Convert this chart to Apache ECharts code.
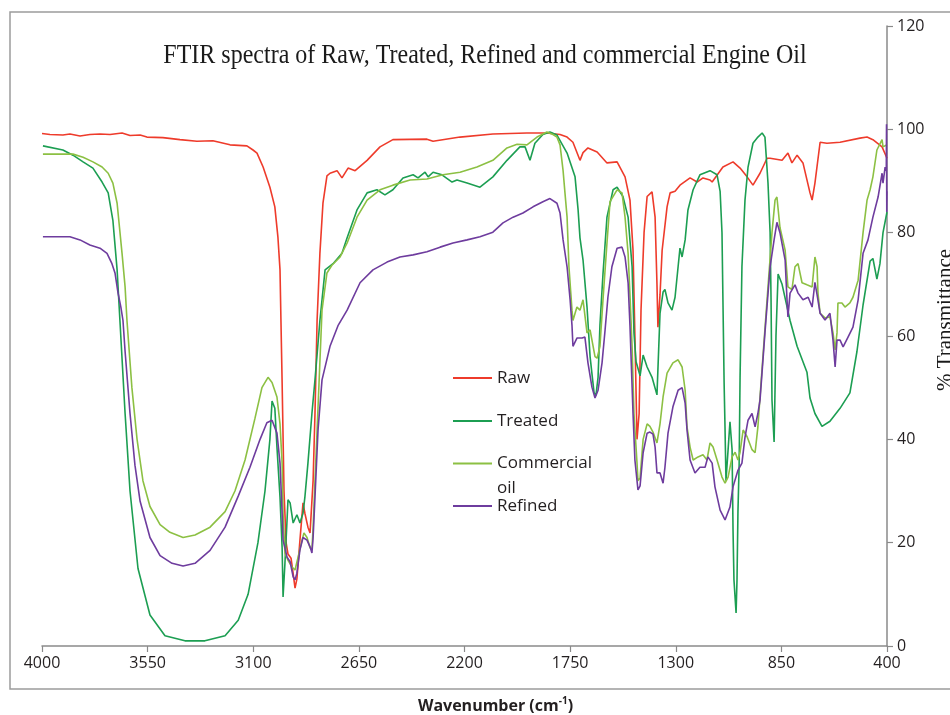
<!DOCTYPE html>
<html>
<head>
<meta charset="utf-8">
<title>FTIR spectra</title>
<script src="https://cdn.jsdelivr.net/npm/echarts@6/dist/echarts.min.js"></script>
<style>
  html, body { margin: 0; padding: 0; background: #ffffff; }
  #chart { width: 950px; height: 715px; }
</style>
</head>
<body>
<div id="chart"></div>
<script>
// Axis ticks
const wavenumberTicks = [400, 850, 1300, 1750, 2200, 2650, 3100, 3550, 4000];
const transmittanceRange = [0, 120];
const transmittanceStep = 20;

const chartTitle = 'FTIR spectra of Raw, Treated, Refined and commercial Engine Oil';
const seriesNames = ['Raw', 'Treated', 'Commercial oil', 'Refined'];

// Spectra: [wavenumber (cm-1), % transmittance]
const rawOil = [
  [4000,99.2],[3996,99.1],[3966,99.0],[3911,98.9],[3881,99.1],[3838,98.7],[3796,99.0],[3753,99.1],
  [3710,99.0],[3659,99.3],[3625,98.8],[3582,98.9],[3553,98.5],[3485,98.4],[3412,98.0],[3340,97.7],
  [3272,97.8],[3199,97.0],[3127,96.8],[3101,96.0],[3084,95.4],[3058,92.7],[3029,88.8],[3008,85.0],
  [2995,79.2],[2986,72.8],[2982,63.0],[2977,51.0],[2969,30.0],[2960,20.0],[2952,17.8],[2939,17.0],
  [2930,14.0],[2922,11.2],[2914,13.0],[2901,20.5],[2888,27.7],[2880,25.7],[2867,23.0],[2858,21.9],
  [2845,32.0],[2837,45.0],[2828,63.0],[2816,76.0],[2803,85.7],[2786,91.0],[2773,91.5],[2743,92.0],
  [2722,90.6],[2696,92.5],[2666,92.0],[2615,94.0],[2560,96.6],[2505,98.0],[2360,98.1],[2334,97.7],
  [2219,98.5],[2079,99.1],[1934,99.3],[1849,99.3],[1793,99.0],[1763,98.5],[1738,97.5],[1708,94.0],
  [1695,95.5],[1674,96.4],[1635,95.6],[1593,93.5],[1550,93.7],[1516,90.8],[1495,86.3],[1482,76.6],
  [1474,60.0],[1465,40.0],[1456,45.0],[1448,65.0],[1435,80.0],[1422,87.0],[1401,87.9],[1388,83.0],
  [1380,70.0],[1376,61.7],[1367,68.0],[1358,76.6],[1337,85.0],[1324,87.7],[1303,88.0],[1282,89.2],
  [1239,90.6],[1209,89.8],[1184,90.6],[1154,90.2],[1145,89.8],[1099,92.7],[1056,93.7],[1026,92.5],
  [996,90.8],[971,89.2],[941,91.5],[911,94.4],[898,94.4],[847,94.0],[822,95.4],[805,93.5],
  [783,95.0],[758,93.5],[728,87.7],[719,86.3],[707,89.6],[685,97.5],[656,97.3],[600,97.5],
  [515,98.3],[485,98.5],[460,98.0],[421,96.6],[400,94.4]
];

const treatedOil = [
  [3996,96.8],[3911,96.0],[3868,95.0],[3825,93.7],[3783,92.5],[3744,89.8],[3718,87.7],[3698,82.4],
  [3680,72.8],[3668,63.0],[3646,45.0],[3625,30.0],[3591,15.0],[3540,6.0],[3476,2.0],[3391,1.0],
  [3306,1.0],[3220,2.0],[3164,5.0],[3122,10.0],[3080,20.0],[3050,30.0],[3029,40.0],[3020,47.4],
  [3008,46.0],[2999,38.5],[2986,28.8],[2977,19.0],[2973,9.5],[2965,16.0],[2956,24.4],[2952,28.3],
  [2943,27.7],[2930,23.8],[2914,25.4],[2901,23.8],[2888,25.7],[2880,28.8],[2867,35.4],[2850,45.0],
  [2837,51.5],[2816,63.0],[2794,72.8],[2760,74.0],[2722,76.0],[2700,79.0],[2658,84.4],[2615,87.7],
  [2573,88.3],[2539,87.3],[2505,88.3],[2462,90.6],[2419,91.2],[2398,90.6],[2368,91.7],[2355,90.8],
  [2334,91.7],[2296,91.2],[2253,89.8],[2232,90.2],[2189,89.6],[2134,88.8],[2079,90.8],[2019,94.0],
  [1964,96.6],[1942,96.6],[1921,94.0],[1900,97.3],[1866,99.0],[1836,99.5],[1806,98.9],[1763,95.4],
  [1729,90.8],[1716,84.4],[1708,79.0],[1695,74.7],[1678,65.6],[1665,56.0],[1648,49.0],[1640,48.5],
  [1631,52.0],[1623,62.0],[1610,72.0],[1593,83.0],[1567,88.3],[1550,88.8],[1525,87.0],[1503,83.0],
  [1486,73.4],[1478,60.6],[1469,55.0],[1452,52.3],[1439,56.3],[1422,54.0],[1401,52.0],[1380,48.6],
  [1367,64.4],[1354,68.5],[1346,69.0],[1333,66.4],[1316,65.0],[1303,67.5],[1290,73.4],[1282,77.0],
  [1273,75.3],[1260,78.6],[1248,84.4],[1226,88.3],[1197,91.2],[1154,92.0],[1124,91.2],[1111,88.0],
  [1103,80.0],[1099,67.0],[1094,51.0],[1090,42.0],[1086,32.0],[1077,38.0],[1069,43.4],[1060,38.0],
  [1056,22.5],[1052,12.8],[1043,6.4],[1039,12.8],[1035,26.0],[1030,35.0],[1026,52.0],[1018,73.4],
  [1005,86.3],[992,92.7],[971,97.3],[950,98.5],[932,99.3],[920,98.5],[907,89.6],[898,80.0],
  [894,67.0],[890,47.6],[881,39.5],[873,60.0],[864,72.0],[847,70.0],[813,63.0],[783,58.0],
  [741,53.0],[728,48.0],[707,45.0],[677,42.5],[643,43.5],[600,46.0],[558,49.0],[528,57.0],
  [502,66.0],[472,74.5],[460,75.0],[443,71.0],[430,74.0],[417,80.0],[400,84.0]
];

const commercialOil = [
  [3996,95.2],[3868,95.2],[3825,94.6],[3783,93.7],[3744,92.7],[3718,91.5],[3698,89.6],[3680,85.7],
  [3659,76.0],[3646,69.5],[3638,63.0],[3617,50.0],[3595,40.0],[3570,32.0],[3540,27.0],[3497,23.5],
  [3455,22.0],[3399,21.0],[3348,21.5],[3284,23.0],[3220,26.0],[3178,30.0],[3135,36.0],[3093,44.0],
  [3063,50.0],[3037,52.0],[3020,51.0],[2999,48.2],[2986,43.0],[2977,35.4],[2973,25.7],[2965,18.0],
  [2952,16.6],[2935,15.3],[2922,14.7],[2909,17.2],[2892,20.5],[2884,21.9],[2871,21.0],[2858,19.0],
  [2850,18.6],[2845,23.0],[2837,32.0],[2828,41.8],[2816,55.0],[2807,65.0],[2786,72.2],[2765,73.7],
  [2730,75.3],[2700,78.0],[2658,83.0],[2615,86.3],[2560,88.3],[2505,89.2],[2432,90.2],[2360,90.4],
  [2292,91.2],[2219,91.7],[2147,92.7],[2079,94.0],[2019,96.4],[1976,97.1],[1934,97.0],[1891,98.5],
  [1849,99.5],[1823,99.0],[1806,98.5],[1793,97.0],[1780,92.0],[1772,87.7],[1763,83.0],[1755,73.4],
  [1742,65.0],[1738,63.0],[1721,65.6],[1708,65.0],[1695,67.0],[1678,60.6],[1665,61.2],[1644,56.0],
  [1635,55.7],[1623,58.0],[1610,67.0],[1593,78.0],[1580,86.0],[1550,88.3],[1529,87.7],[1516,83.0],
  [1503,76.0],[1495,68.0],[1486,58.0],[1478,45.0],[1465,35.4],[1461,32.0],[1452,32.5],[1439,40.0],
  [1422,43.0],[1410,42.5],[1397,41.4],[1380,39.3],[1367,43.0],[1354,48.2],[1337,52.8],[1312,54.8],
  [1290,55.4],[1273,54.0],[1260,49.5],[1252,42.4],[1239,38.5],[1226,36.0],[1205,36.6],[1184,37.0],
  [1167,36.0],[1154,39.3],[1141,38.5],[1124,36.0],[1103,32.7],[1090,31.5],[1077,32.7],[1060,36.6],
  [1047,37.5],[1035,36.0],[1026,37.5],[1013,41.8],[996,40.5],[975,38.0],[962,37.4],[950,42.4],
  [941,48.2],[911,67.0],[890,80.0],[877,86.3],[869,86.9],[856,81.0],[834,76.6],[822,69.5],
  [805,69.0],[792,73.4],[779,74.0],[762,70.3],[741,69.9],[719,69.5],[707,75.3],[698,73.4],
  [694,68.3],[685,64.4],[664,63.5],[643,63.7],[630,60.6],[621,57.3],[613,60.6],[609,66.4],
  [592,66.4],[579,65.6],[558,66.4],[545,67.5],[523,70.8],[502,80.0],[485,86.3],[472,88.3],
  [460,90.8],[443,96.0],[421,98.0],[417,96.6],[400,97.0]
];

const refinedOil = [
  [3996,79.2],[3881,79.2],[3838,78.6],[3796,77.6],[3753,77.0],[3723,76.0],[3702,74.0],[3689,72.2],
  [3676,68.3],[3664,65.6],[3655,63.0],[3646,57.0],[3625,45.0],[3604,35.0],[3582,28.0],[3540,21.0],
  [3497,17.5],[3446,16.0],[3399,15.5],[3348,16.0],[3284,18.5],[3220,23.0],[3164,29.0],[3114,34.6],
  [3071,40.0],[3042,43.2],[3020,43.7],[2999,41.2],[2986,35.4],[2977,25.7],[2973,20.5],[2956,17.2],
  [2943,16.3],[2930,13.4],[2922,12.8],[2914,14.1],[2901,18.6],[2888,21.0],[2871,20.5],[2858,19.2],
  [2850,18.0],[2845,21.0],[2837,28.8],[2824,41.8],[2807,51.5],[2773,58.0],[2739,62.0],[2700,65.0],
  [2645,70.3],[2590,72.8],[2530,74.3],[2475,75.3],[2419,75.7],[2360,76.3],[2304,77.2],[2249,78.0],
  [2189,78.6],[2134,79.2],[2079,80.1],[2036,81.9],[1993,83.0],[1951,83.8],[1908,85.0],[1866,86.0],
  [1836,86.6],[1806,85.7],[1793,83.8],[1780,78.6],[1763,73.4],[1750,67.0],[1742,62.0],[1738,58.0],
  [1721,59.6],[1699,59.6],[1687,59.8],[1674,54.8],[1657,50.1],[1644,48.0],[1631,49.5],[1614,54.8],
  [1601,61.2],[1589,67.5],[1572,73.4],[1550,77.0],[1529,77.2],[1516,75.3],[1503,70.3],[1495,62.0],
  [1482,45.0],[1474,36.0],[1465,32.0],[1461,30.2],[1452,31.0],[1439,37.4],[1422,41.2],[1410,41.4],
  [1397,41.0],[1388,38.5],[1380,33.5],[1367,33.5],[1354,31.5],[1346,34.6],[1333,41.2],[1312,46.3],
  [1290,49.5],[1273,50.0],[1260,47.0],[1252,41.8],[1239,36.0],[1218,33.5],[1197,34.6],[1175,34.6],
  [1163,36.6],[1145,35.4],[1133,30.8],[1111,26.3],[1090,24.4],[1069,26.9],[1056,30.8],[1035,34.0],
  [1018,35.4],[1005,40.4],[992,43.7],[975,45.0],[962,42.4],[950,45.0],[941,47.6],[920,60.6],
  [898,73.4],[881,78.6],[869,82.0],[856,80.0],[834,74.7],[826,67.0],[822,63.7],[813,68.3],
  [792,69.9],[779,68.3],[758,67.0],[736,67.5],[719,65.6],[707,70.4],[698,68.0],[685,64.4],
  [664,63.1],[643,64.4],[630,59.2],[621,54.0],[613,59.2],[600,59.2],[587,57.9],[566,59.8],
  [545,61.7],[523,67.0],[502,76.0],[481,78.6],[460,83.0],[438,86.9],[421,91.5],[417,89.6],
  [408,92.7],[403,92.0],[402,101.0],[401,84.0],[400,88.0]
];

const seriesColors = ['#ee3b2b', '#1c9e52', '#8cc043', '#6e3c9e'];
const seriesData = [rawOil, treatedOil, commercialOil, refinedOil];

const chart = echarts.init(document.getElementById('chart'), null, { renderer: 'canvas' });

const sansFont = '"Open Sans", "Noto Sans", sans-serif';
const serifFont = '"Liberation Serif", "DejaVu Serif", serif';

// One legend block per entry so each row sits at its own height; the icon is a plain stroke.
function legendAt(name, top, extra) {
  return Object.assign({
    data: [name],
    orient: 'vertical',
    left: 453,
    top: top,
    padding: 0,
    icon: 'rect',
    itemWidth: 39,
    itemHeight: 2,
    selectedMode: false,
    textStyle: { fontFamily: sansFont, fontSize: 17, color: '#231f20', lineHeight: 22 }
  }, extra || {});
}

chart.setOption({
  animation: false,
  backgroundColor: '#ffffff',
  color: seriesColors,
  grid: {
    left: 42, right: 63, top: 26, bottom: 69,
    containLabel: false,
    outerBoundsMode: 'none'
  },
  graphic: [
    {
      type: 'rect',
      silent: true,
      z: -10,
      shape: { x: 10, y: 12, width: 960, height: 677 },
      style: { fill: 'none', stroke: '#9c9c9c', lineWidth: 1.5 }
    },
    {
      type: 'text',
      silent: true,
      x: 485,
      y: 56,
      scaleY: 1.12,
      style: {
        text: chartTitle,
        font: '24px ' + serifFont,
        fill: '#1a1a1a',
        align: 'center',
        verticalAlign: 'middle'
      }
    }
  ],
  legend: [
    legendAt(seriesNames[0], 367),
    legendAt(seriesNames[1], 410),
    // three rows of 25px: an empty row above keeps "Commercial" level with the icon
    legendAt(seriesNames[2], 426, {
      formatter: ' \nCommercial\noil',
      textStyle: { fontFamily: sansFont, fontSize: 17, color: '#231f20', lineHeight: 25 }
    }),
    legendAt(seriesNames[3], 495)
  ],
  xAxis: {
    type: 'value',
    inverse: true,
    min: wavenumberTicks[0],
    max: wavenumberTicks[wavenumberTicks.length - 1],
    name: '{t|Wavenumber (cm}{s|-1}{t|)}',
    nameLocation: 'middle',
    nameGap: 50,
    nameTextStyle: {
      padding: [0, 0, 0, 62],
      rich: {
        t: { fontFamily: sansFont, fontSize: 16, fontWeight: 'bold', color: '#231f20', lineHeight: 20 },
        s: { fontFamily: sansFont, fontSize: 10, fontWeight: 'bold', color: '#231f20', lineHeight: 20, verticalAlign: 'top' }
      }
    },
    axisLine: { show: true, lineStyle: { color: '#8a8a8a', width: 1.5 } },
    axisTick: { show: true, length: 6, customValues: wavenumberTicks, lineStyle: { color: '#8a8a8a', width: 1.2 } },
    axisLabel: {
      customValues: wavenumberTicks,
      formatter: function (v) { return String(v); },
      margin: 9,
      fontFamily: sansFont,
      fontSize: 16,
      color: '#231f20'
    },
    splitLine: { show: false }
  },
  yAxis: {
    type: 'value',
    position: 'right',
    min: transmittanceRange[0],
    max: transmittanceRange[1],
    interval: transmittanceStep,
    name: '% Transmittance',
    nameLocation: 'middle',
    nameRotate: 90,
    nameGap: 48,
    nameTextStyle: {
      fontFamily: serifFont,
      fontSize: 21,
      color: '#1a1a1a',
      padding: [0, 0, 0, 32]
    },
    axisLine: { show: true, lineStyle: { color: '#8a8a8a', width: 1.5 } },
    axisTick: { show: true, length: 6, lineStyle: { color: '#8a8a8a', width: 1.2 } },
    axisLabel: {
      margin: 10,
      fontFamily: sansFont,
      fontSize: 16,
      color: '#231f20'
    },
    splitLine: { show: false }
  },
  series: seriesNames.map(function (name, i) {
    return {
      name: name,
      type: 'line',
      data: seriesData[i],
      symbol: 'none',
      showSymbol: false,
      smooth: false,
      clip: false,
      lineStyle: { color: seriesColors[i], width: 1.6 },
      itemStyle: { color: seriesColors[i] },
      emphasis: { disabled: true }
    };
  })
});
</script>
</body>
</html>
